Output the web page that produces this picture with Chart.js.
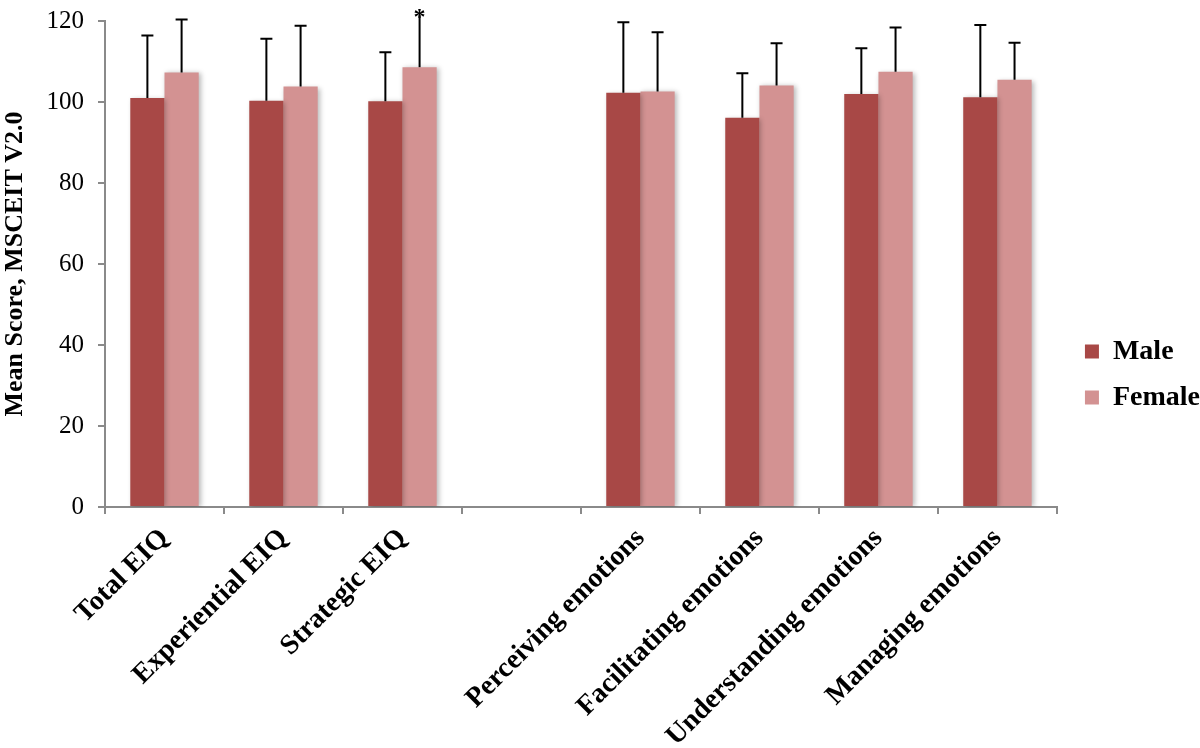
<!DOCTYPE html>
<html>
<head>
<meta charset="utf-8">
<title>MSCEIT V2.0 by sex</title>
<script src="https://cdn.jsdelivr.net/npm/chart.js@4.4.1/dist/chart.umd.min.js"></script>
<style>
  html, body { margin: 0; padding: 0; background: #fff; }
  #wrap { width: 1200px; height: 748px; position: relative; }
</style>
</head>
<body>
<div id="wrap"><canvas id="msceit"></canvas></div>
<script>
// values
const categories = ['Total EIQ', 'Experiential EIQ', 'Strategic EIQ', '',
  'Perceiving emotions', 'Facilitating emotions', 'Understanding emotions', 'Managing emotions'];

const maleMean = [101.0, 100.3, 100.2, null, 102.3, 96.1, 102.0, 101.2];
const maleSD = [15.4, 15.3, 12.1, null, 17.4, 11.0, 11.3, 17.8];

const femaleMean = [107.3, 103.8, 108.6, null, 102.6, 104.1, 107.5, 105.5];
const femaleSD = [13.1, 15.0, 12.9, null, 14.6, 10.4, 10.9, 9.1];
const femaleMark = ['', '', '*', '', '', '', '', ''];

const yTicks = [0, 20, 40, 60, 80, 100, 120];

const maleColor = 'rgb(168, 72, 70)';
const femaleColor = 'rgb(211, 146, 146)';
const serif = "'Liberation Serif', 'Times New Roman', serif";

// soft drop shadow under the bars only
const barShadow = {
  id: 'barShadow',
  beforeDatasetsDraw(chart) {
    const ctx = chart.ctx;
    ctx.save();
    ctx.shadowColor = 'rgba(0, 0, 0, 0.28)';
    ctx.shadowBlur = 5;
    ctx.shadowOffsetX = 2;
    ctx.shadowOffsetY = 1;
  },
  afterDatasetsDraw(chart) {
    chart.ctx.restore();
  }
};

// upper error bars + significance mark
const errorBars = {
  id: 'errorBars',
  afterDatasetsDraw(chart) {
    const ctx = chart.ctx;
    const y = chart.scales.y;
    ctx.save();
    ctx.strokeStyle = '#000';
    ctx.lineWidth = 2;
    chart.data.datasets.forEach((ds, di) => {
      const meta = chart.getDatasetMeta(di);
      ds.data.forEach((v, i) => {
        if (v == null) return;
        const bar = meta.data[i];
        const top = y.getPixelForValue(v + ds.sd[i]);
        const marked = ds.mark && ds.mark[i];
        ctx.beginPath();
        ctx.moveTo(bar.x, bar.y);
        ctx.lineTo(bar.x, top);
        if (!marked) {
          ctx.moveTo(bar.x - 6, top);
          ctx.lineTo(bar.x + 6, top);
        }
        ctx.stroke();
        if (marked) {
          ctx.fillStyle = '#000';
          ctx.font = 'bold 24px ' + serif;
          ctx.textAlign = 'center';
          ctx.textBaseline = 'alphabetic';
          ctx.fillText(ds.mark[i], bar.x, top + 9);
        }
      });
    });
    ctx.restore();
  }
};

// nudge the legend right and up a little, like the original
const legendShift = {
  id: 'legendShift',
  afterLayout(chart) {
    const lg = chart.legend;
    lg.left += 10;
    lg.right += 10;
    lg.top -= 10;
    lg.bottom -= 10;
  }
};

new Chart(document.getElementById('msceit'), {
  type: 'bar',
  data: {
    labels: categories,
    datasets: [
      { label: 'Male', data: maleMean, sd: maleSD, backgroundColor: maleColor },
      { label: 'Female', data: femaleMean, sd: femaleSD, mark: femaleMark, backgroundColor: femaleColor }
    ]
  },
  options: {
    responsive: true,
    maintainAspectRatio: false,
    animation: false,
    categoryPercentage: 0.575,
    barPercentage: 1,
    layout: { padding: { top: 21, left: 0, right: 0, bottom: 0 } },
    plugins: {
      tooltip: { enabled: false },
      legend: {
        position: 'right',
        labels: {
          boxWidth: 14,
          boxHeight: 14,
          padding: 18,
          color: '#000',
          font: { family: serif, size: 28, weight: 'bold' }
        }
      }
    },
    scales: {
      x: {
        grid: { display: true, drawOnChartArea: false, tickLength: 7, color: '#8a8a8a', lineWidth: 2 },
        border: { color: '#8a8a8a', width: 2 },
        ticks: {
          minRotation: 45,
          maxRotation: 45,
          padding: 8,
          color: '#000',
          font: { family: serif, size: 28, weight: 'bold' }
        },
        afterFit(scale) { scale.height = 241; }
      },
      y: {
        min: 0,
        max: 120,
        afterBuildTicks(scale) { scale.ticks = yTicks.map(v => ({ value: v })); },
        grid: { display: true, drawOnChartArea: false, tickLength: 7, color: '#8a8a8a', lineWidth: 2 },
        border: { color: '#8a8a8a', width: 2 },
        ticks: {
          padding: 14,
          color: '#000',
          font: { family: serif, size: 25 }
        },
        title: {
          display: true,
          text: 'Mean Score, MSCEIT V2.0',
          color: '#000',
          padding: 0,
          font: { family: serif, size: 26, weight: 'bold' }
        },
        afterFit(scale) {
          scale.width = 105;
          scale.paddingTop = 0;
        }
      }
    }
  },
  plugins: [barShadow, errorBars, legendShift]
});
</script>
</body>
</html>
